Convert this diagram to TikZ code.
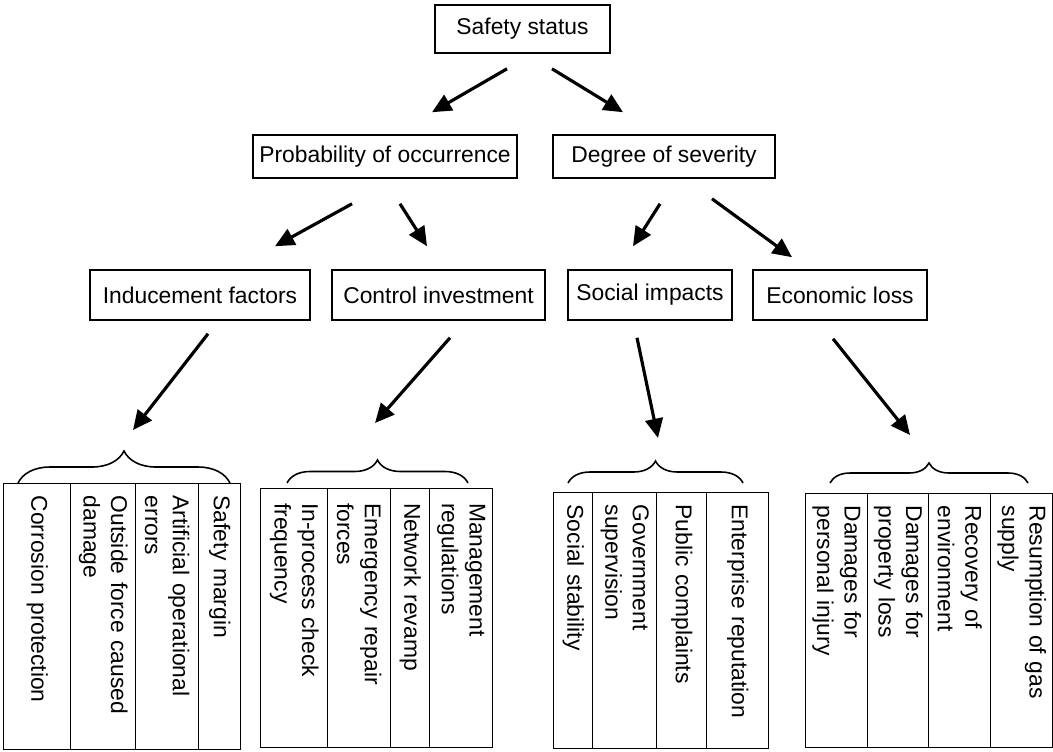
\documentclass[tikz,border=0pt]{standalone}
\usepackage{fontspec}
\setmainfont{Liberation Sans}
\usepackage{tikz}
\usetikzlibrary{arrows.meta, decorations.pathreplacing}

\begin{document}
\begin{tikzpicture}[
		x=0.02cm,
		y=-0.02cm,
		font=\fontsize{13}{15.7}\selectfont,
		box/.style={draw, line width=0.9pt, inner sep=0pt, minimum height=0.9cm},
		arr/.style={-{Triangle[length=11pt, width=10pt]}, line width=1.8pt},
		colbox/.style={draw, line width=0.8pt, rotate=-90, anchor=south west, align=left, inner sep=0pt},
		brace/.style={decorate, line width=0.9pt, decoration={brace, amplitude=#1}}
		]
		\useasboundingbox (0,0) rectangle (1053,751);

		% Top levels
		\node[box, minimum width=3.5cm, minimum height=0.96cm] (safety) at (522.5,29) {Safety status};
		\node[box, minimum width=5.28cm, minimum height=0.86cm] (prob) at (385,156.5) {Probability of occurrence};
		\node[box, minimum width=4.44cm, minimum height=0.86cm] (degree) at (664,156.5) {Degree of severity};

		\node[box, minimum width=4.4cm, minimum height=1.0cm] (induc) at (200,295) {Inducement factors};
		\node[box, minimum width=4.26cm, minimum height=1.0cm] (control) at (438.5,295) {Control investment};
		\node[box, minimum width=3.28cm, minimum height=1.0cm] (social) at (650,295) {Social impacts};
		\node[box, minimum width=3.48cm, minimum height=1.0cm] (econ) at (840,295) {Economic loss};

		% Arrows between levels
		\draw[arr] ([shift={(-15.5,15)}]safety.south) -- ([shift={(47,-22)}]prob.north);
		\draw[arr] ([shift={(29.5,15)}]safety.south) -- ([shift={(-41,-22)}]degree.north);
		\draw[arr] ([shift={(-33,25)}]prob.south) -- ([shift={(75,-23)}]induc.north);
		\draw[arr] ([shift={(15,25)}]prob.south) -- ([shift={(-11.5,-23)}]control.north);
		\draw[arr] ([shift={(-4,25)}]degree.south) -- ([shift={(-17,-23)}]social.north);
		\draw[arr] ([shift={(48,20)}]degree.south) -- ([shift={(-48,-12)}]econ.north);

		% Braces
		\draw[brace=0.64cm] (18,483) -- (230,483);
		\draw[brace=0.46cm] (287,483) -- (468,483);
		\draw[brace=0.44cm] (568,483) -- (743,483);
		\draw[brace=0.4cm] (830,483) -- (1028,483);
		\coordinate (b1) at (124,450);
		\coordinate (b2) at (377.5,460);
		\coordinate (b3) at (655.5,461);
		\coordinate (b4) at (929,463);

		\draw[arr] ([shift={(8,13)}]induc.south) -- ([shift={(9,-20)}]b1);
		\draw[arr] ([shift={(11.5,17)}]control.south) -- ([shift={(-2.5,-37)}]b2);
		\draw[arr] ([shift={(-13,17)}]social.south) -- ([shift={(2.5,-23)}]b3);
		\draw[arr] ([shift={(-7,18)}]econ.south) -- ([shift={(-19,-28)}]b4);

		% Inducement factors
		\node[colbox, minimum width=5.32cm, text width=4.84cm, minimum height=1.34cm] (ia) at (3,483) {Corrosion protection};
		\node[colbox, minimum width=5.32cm, text width=4.84cm, minimum height=1.30cm] (ib) at (70,483) {Outside force caused\\damage};
		\node[colbox, minimum width=5.32cm, text width=4.84cm, minimum height=1.26cm] (ic) at (135,483) {Artificial operational\\errors};
		\node[colbox, minimum width=5.32cm, text width=4.84cm, minimum height=0.84cm] (id) at (198,483) {Safety margin};

		% Control investment
		\node[colbox, minimum width=5.18cm, text width=4.6cm, minimum height=1.34cm] (ca) at (260,488) {In-process check\\frequency};
		\node[colbox, minimum width=5.18cm, text width=4.6cm, minimum height=1.26cm] (cb) at (327,488) {Emergency repair\\forces};
		\node[colbox, minimum width=5.18cm, text width=4.6cm, minimum height=0.78cm] (cc) at (390,488) {Network revamp};
		\node[colbox, minimum width=5.18cm, text width=4.6cm, minimum height=1.26cm] (cd) at (429,488) {Management\\regulations};

		% Social impacts
		\node[colbox, minimum width=5.12cm, text width=4.64cm, minimum height=0.78cm] (sa) at (553,492) {Social stability};
		\node[colbox, minimum width=5.12cm, text width=4.64cm, minimum height=1.28cm] (sb) at (592,492) {Government\\supervision};
		\node[colbox, minimum width=5.12cm, text width=4.64cm, minimum height=1.00cm] (sc) at (656,492) {Public complaints};
		\node[colbox, minimum width=5.12cm, text width=4.64cm, minimum height=1.24cm] (sd) at (706,492) {Enterprise reputation};

		% Economic loss
		\node[colbox, minimum width=5.08cm, text width=4.6cm, minimum height=1.24cm] (ea) at (805,493) {Damages for\\personal injury};
		\node[colbox, minimum width=5.08cm, text width=4.6cm, minimum height=1.22cm] (eb) at (867,493) {Damages for\\property loss};
		\node[colbox, minimum width=5.08cm, text width=4.6cm, minimum height=1.24cm] (ec) at (928,493) {Recovery of\\environment};
		\node[colbox, minimum width=5.08cm, text width=4.6cm, minimum height=1.24cm] (ed) at (990,493) {Resumption of gas\\supply};
	\end{tikzpicture}
\end{document}
